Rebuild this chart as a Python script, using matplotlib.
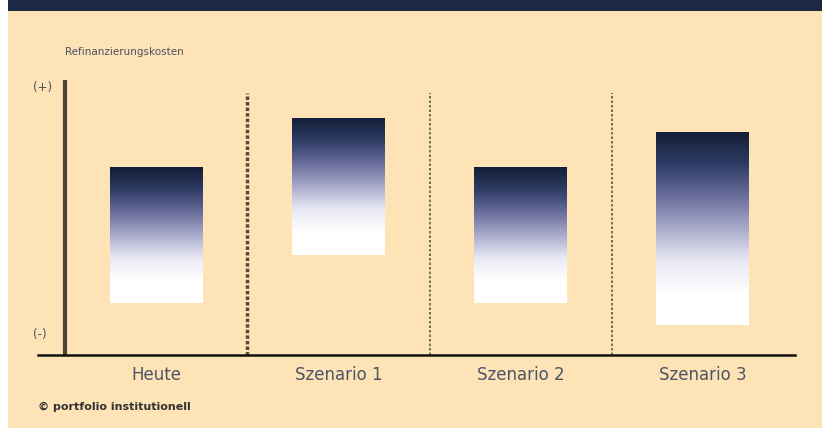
import numpy as np
import matplotlib.pyplot as plt
from matplotlib.colors import LinearSegmentedColormap
from matplotlib.patches import Rectangle

categories = ["Heute", "Szenario 1", "Szenario 2", "Szenario 3"]
bar_top = [6.96, 8.74, 6.96, 8.26]
bar_bottom = [1.93, 3.70, 1.93, 1.11]

peach = "#fde3b6"
navy = "#1b2846"

fig = plt.figure(figsize=(8.22, 4.28), dpi=100)
fig.patch.set_facecolor("white")

# peach panel + navy band at top (behind the axes)
fig.patches.append(Rectangle((0.0095, 0), 1, 1, transform=fig.transFigure,
                             facecolor=peach, edgecolor="none", zorder=-2))
fig.patches.append(Rectangle((0.0095, 0.974), 1, 0.03, transform=fig.transFigure,
                             facecolor=navy, edgecolor="none", zorder=-1))

ax = fig.add_axes([0.0462, 0.1706, 0.921, 0.647])
ax.set_facecolor("none")

cmap = LinearSegmentedColormap.from_list(
    "fade", ["#131e38", "#2f3d66", "#6a6f9c", "#a9abcc", "#e8e8f4", "#ffffff", "#ffffff"])
grad = np.linspace(0, 1, 200).reshape(-1, 1)

w = 0.51
for i, (t, b) in enumerate(zip(bar_top, bar_bottom)):
    ax.imshow(grad, cmap=cmap, aspect="auto", interpolation="bilinear",
              extent=(i - w / 2, i + w / 2, b, t), origin="upper", zorder=2)

# y axis line and dividers
ax.plot([-0.5, -0.5], [0, 10.2], color="#4a4232", lw=3, solid_capstyle="butt", zorder=3)
ax.plot([0.5, 0.5], [0, 9.7], color="#5a4a3a", lw=2.5, ls=(0, (1, 0.6)), zorder=3)
for xd in [1.5, 2.5]:
    ax.plot([xd, xd], [0, 9.7], color="#56603a", lw=1.2, ls=(0, (1.5, 1.2)), zorder=3)
ax.axhline(0, color="#111111", lw=1.8, zorder=4, clip_on=False)

ax.set_xlim(-0.651, 3.508)
ax.set_ylim(0, 10.26)
ax.axis("off")

for i, c in enumerate(categories):
    ax.text(i, -0.75, c, ha="center", va="center", fontsize=12,
            color="#4c5466", family="DejaVu Sans")

txtc = "#4c5060"
fig.text(0.079, 0.878, "Refinanzierungskosten", fontsize=7.5, color=txtc, va="center")
fig.text(0.040, 0.795, "(+)", fontsize=8.5, color=txtc, va="center")
fig.text(0.040, 0.218, "(-)", fontsize=8.5, color=txtc, va="center")
fig.text(0.046, 0.049, "© portfolio institutionell", fontsize=8, color="#333333",
         va="center", fontweight="bold")

fig.savefig("out.png", dpi=100)
